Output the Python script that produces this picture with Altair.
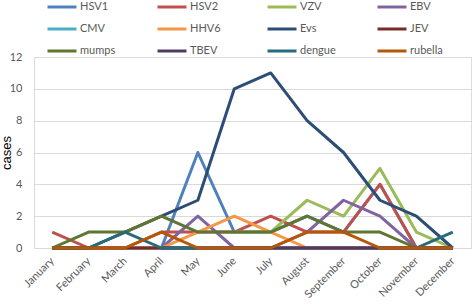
import altair as alt
import pandas as pd

months = ["January", "February", "March", "April", "May", "June", "July",
          "August", "September", "October", "November", "December"]

series_names = ["HSV1", "HSV2", "VZV", "EBV", "CMV", "HHV6", "Evs", "JEV",
                "mumps", "TBEV", "dengue", "rubella"]
series_colors = ["#4F81BD", "#C0504D", "#9BBB59", "#8064A2", "#4BACC6", "#F79646",
                 "#2C4D75", "#772C2A", "#5F7530", "#4D3B62", "#276A7C", "#B65708"]

N = None
HSV1 = [0, 0, 0, 0, 6, 1, 1, 2, 1, 4, 0, 0]
HSV2 = [1, 0, 0, 1, 1, 1, 2, 1, 1, 4, 0, 0]
VZV = [N, N, N, N, N, 1, 1, 3, 2, 5, 1, 0]
EBV = [0, 0, 0, 0, 2, 0, 0, 1, 3, 2, 0, 0]
CMV = [0, 0, 0, 0, 0, 0, 0, 0, 0, 0, 0, 0]
HHV6 = [0, 0, 0, 0, 1, 2, 1, 0, 0, 0, 0, 0]
Evs = [0, 0, 1, 2, 3, 10, 11, 8, 6, 3, 2, 0]
JEV = [0, 0, 0, 0, 0, 0, 0, 0, 0, 0, 0, 0]
mumps = [0, 1, 1, 2, 1, 1, 1, 2, 1, 1, 0, 0]
TBEV = [N, N, N, 0, 0, 0, 0, 0, 0, 0, 0, 0]
dengue = [0, 0, 1, 0, 0, N, N, N, N, N, 0, 1]
rubella = [0, 0, 0, 1, 0, 0, 0, 1, 1, 0, 0, 0]

values = [HSV1, HSV2, VZV, EBV, CMV, HHV6, Evs, JEV, mumps, TBEV, dengue, rubella]

rows = []
for i, (name, vals) in enumerate(zip(series_names, values)):
    for j, (m, v) in enumerate(zip(months, vals)):
        rows.append({"series": name, "order": i, "month": m, "idx": j, "cases": v})
df = pd.DataFrame(rows)

FONT = "Lato"
GRAY = "#595959"

chart = alt.Chart(df).mark_line(
    strokeWidth=3, strokeJoin="round", invalid="break-paths-show-domains"
).encode(
    x=alt.X("month:N", sort=months, scale=alt.Scale(type="point", padding=0.5),
            axis=alt.Axis(title=None, labelAngle=-45, labelAlign="right",
                          labelBaseline="middle", labelPadding=11, ticks=False,
                          domain=False, grid=False, labelFont=FONT,
                          labelFontSize=11, labelColor=GRAY)),
    y=alt.Y("cases:Q", scale=alt.Scale(domain=[0, 12], nice=False),
            axis=alt.Axis(title="cases", values=[0, 2, 4, 6, 8, 10, 12],
                          ticks=False, domain=False, gridColor="#D9D9D9",
                          labelFont=FONT, labelFontSize=11, labelColor=GRAY,
                          labelPadding=12, titleFont="Liberation Sans",
                          titleFontSize=13, titleFontWeight="normal",
                          titleColor="#000000", titleX=-21, titleY=95.5)),
    color=alt.Color("series:N", sort=series_names,
                    scale=alt.Scale(domain=series_names, range=series_colors),
                    legend=alt.Legend(title=None, orient="none", columns=4,
                                      direction="horizontal", gridAlign="all",
                                      legendX=12, legendY=-66, padding=0,
                                      symbolType="stroke", symbolSize=841,
                                      symbolStrokeWidth=3, rowPadding=-13,
                                      columnPadding=35, labelOffset=2,
                                      labelFont=FONT, labelFontSize=11,
                                      labelColor=GRAY)),
    order=alt.Order("order:Q"),
    detail="series:N",
).properties(
    width=437, height=191,
    autosize=alt.AutoSizeParams(type="none"),
    padding={"left": 34, "top": 57, "right": 1, "bottom": 58},
).configure_view(stroke="#D9D9D9").configure(background="white")

chart.save("out.html", embed_options={"renderer": "svg", "actions": False})
